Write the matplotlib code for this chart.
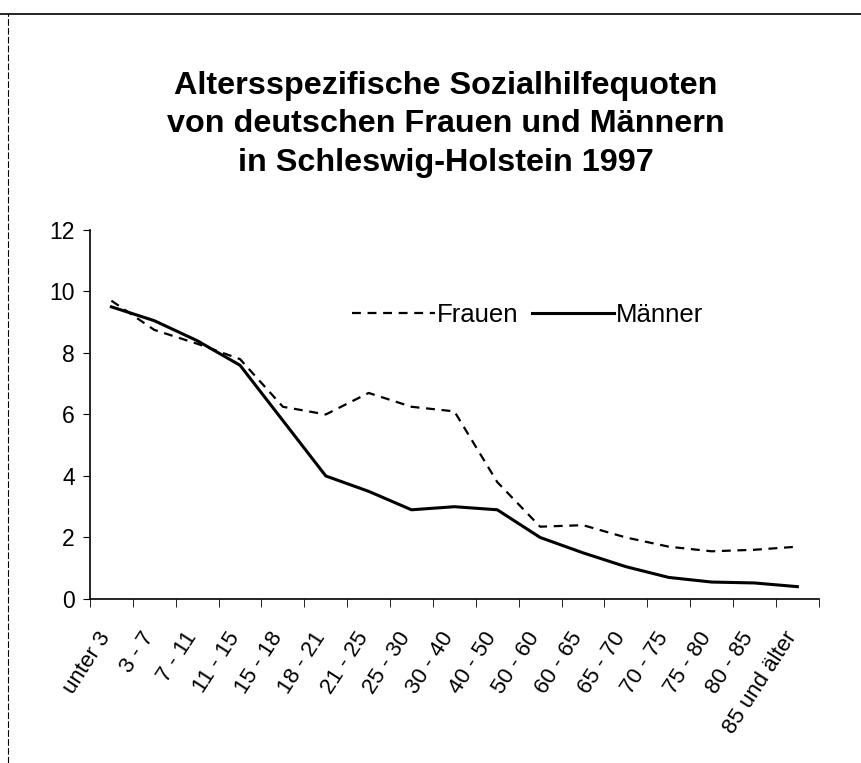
import matplotlib
matplotlib.use("Agg")
import matplotlib.pyplot as plt
import matplotlib.transforms as mtransforms
import numpy as np

plt.rcParams['font.family'] = ['Liberation Sans', 'DejaVu Sans']

# age groups and rates (percent)
age_groups = ["unter 3", "3 - 7", "7 - 11", "11 - 15", "15 - 18", "18 - 21",
              "21 - 25", "25 - 30", "30 - 40", "40 - 50", "50 - 60", "60 - 65",
              "65 - 70", "70 - 75", "75 - 80", "80 - 85", "85 und älter"]
frauen = [9.7, 8.75, 8.3, 7.8, 6.25, 6.0, 6.7, 6.25, 6.1, 3.8, 2.35, 2.4,
          2.0, 1.7, 1.55, 1.6, 1.7]
maenner = [9.5, 9.05, 8.4, 7.6, 5.8, 4.0, 3.5, 2.9, 3.0, 2.9, 2.0, 1.5,
           1.05, 0.7, 0.55, 0.52, 0.4]
y_ticks = [0, 2, 4, 6, 8, 10, 12]

title = ("Altersspezifische Sozialhilfequoten\n"
         "von deutschen Frauen und Männern\n"
         "in Schleswig-Holstein 1997")

fig = plt.figure(figsize=(8.61, 7.63), dpi=100)
ax = fig.add_axes([0.1045, 0.215, 0.8465, 0.4836])

x = np.arange(len(age_groups))
ax.plot(x, frauen, color='black', lw=1.6, linestyle=(0, (4, 3)), label='Frauen')
ax.plot(x, maenner, color='black', lw=2.2, label='Männer')

ax.set_xlim(-0.5, len(age_groups) - 0.5)
ax.set_ylim(0, 12)
ax.set_yticks(y_ticks)
ax.tick_params(axis='y', labelsize=16.5, length=5, direction='out', pad=6)

ax.set_xticks(x)
ax.set_xticklabels(age_groups, rotation=57, ha='right', va='center',
                   rotation_mode='anchor', fontsize=16)
ax.tick_params(axis='x', which='major', length=0, pad=25)
ax.set_xticks(np.arange(len(age_groups) + 1) - 0.5, minor=True)
ax.tick_params(axis='x', which='minor', length=6, direction='out')

# nudge the rotated labels a bit to the left of the category centre
shift = mtransforms.ScaledTranslation(-5 / 100, 0, fig.dpi_scale_trans)
for lbl in ax.get_xticklabels():
    lbl.set_transform(lbl.get_transform() + shift)

for s in ['top', 'right']:
    ax.spines[s].set_visible(False)
for s in ['left', 'bottom']:
    ax.spines[s].set_linewidth(1.2)

ax.legend(loc='center', bbox_to_anchor=(0.601, 0.77), ncol=2, frameon=False,
          fontsize=18.5, handlelength=3.2, handletextpad=0.1, columnspacing=0.5)

fig.text(0.518, 0.837, title, ha='center', va='center', fontsize=23.3,
         fontweight='bold', linespacing=1.37)

# scan border lines
fig.add_artist(plt.Line2D([0.0, 1.0], [0.982, 0.982], color='black', lw=1.2))
fig.add_artist(plt.Line2D([0.009, 0.009], [0.0, 0.982], color='black', lw=0.8,
                          linestyle=(0, (6, 2))))

fig.savefig("out.png", dpi=100)
